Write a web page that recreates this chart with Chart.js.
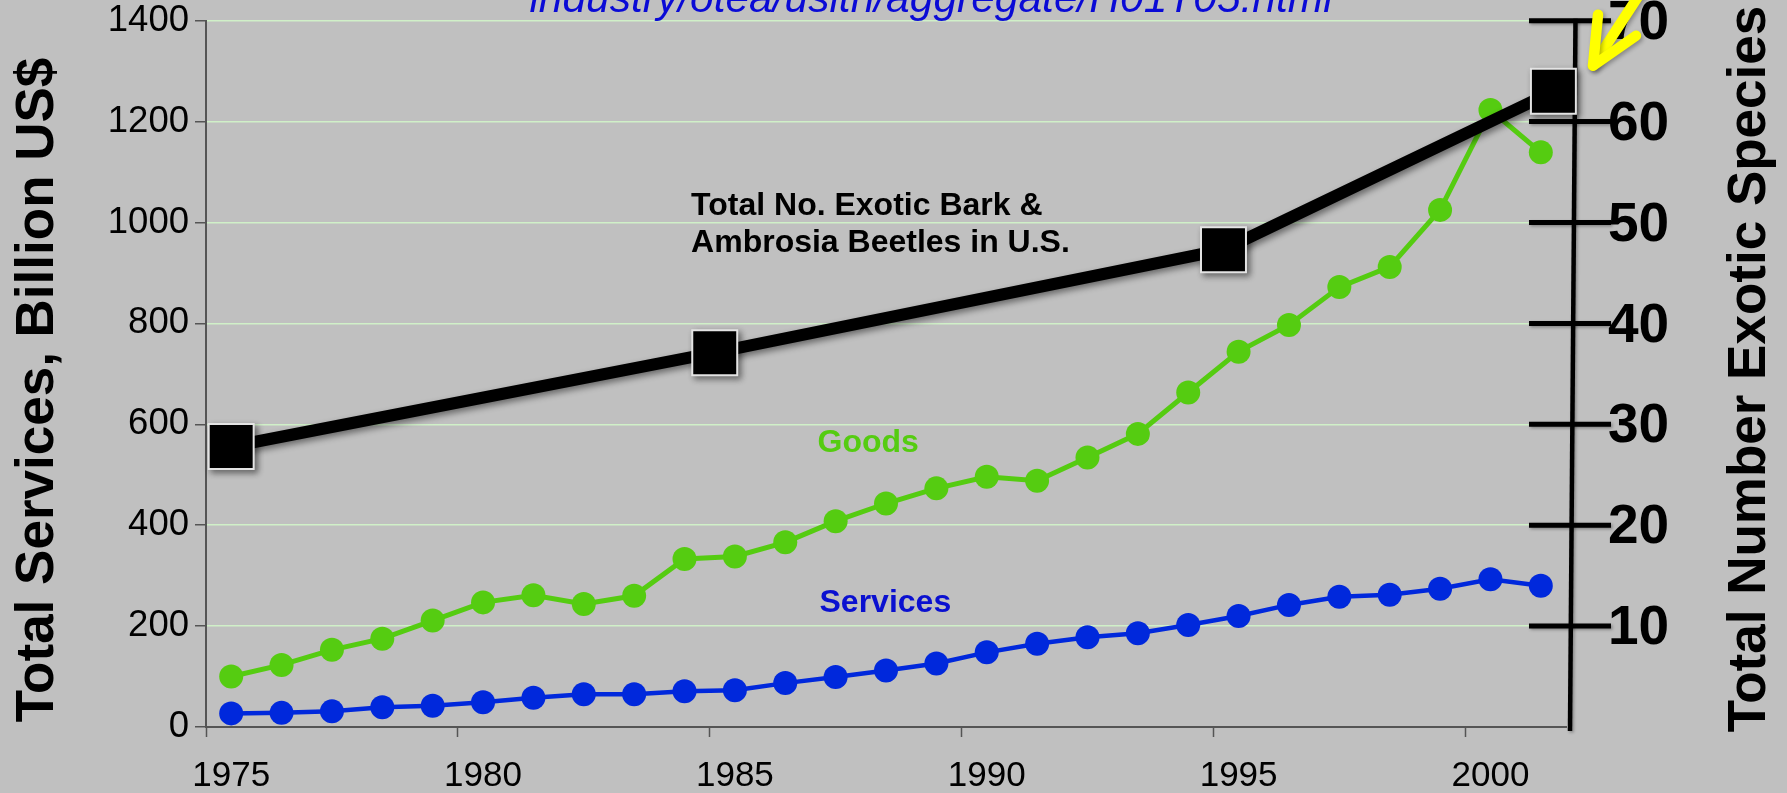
<!DOCTYPE html>
<html>
<head>
<meta charset="utf-8">
<script src="https://cdn.jsdelivr.net/npm/chart.js@4.4.1/dist/chart.umd.min.js"></script>
<style>
html,body{margin:0;padding:0;background:#c0c0c0;overflow:hidden}
#wrap{width:1787px;height:793px;position:relative}
canvas{display:block}
</style>
</head>
<body>
<div id="wrap"><canvas id="c" width="1787" height="793"></canvas></div>
<script>
// ---------- data ----------
const years = ['1975','1976','1977','1978','1979','1980','1981','1982','1983','1984','1985','1986','1987','1988','1989','1990','1991','1992','1993','1994','1995','1996','1997','1998','1999','2000','2001'];
const goods = [100,123,153,175,211,247,261,244,260,333,338,366,408,443,473,496,488,534,581,663,744,797,872,912,1025,1223,1139];
const services = [27,28,31,39,42,49,58,65,65,71,73,87,99,112,126,148,165,178,186,202,220,242,258,262,274,293,280];
const beetleYears = [1975,1984.6,1994.7,2001.25];
const beetleCounts = [27.8,37.1,47.3,63.0];
const xTickLabels = ['1975','1980','1985','1990','1995','2000'];
const leftTickValues = [0,200,400,600,800,1000,1200,1400];
const rightTickValues = [0,10,20,30,40,50,60,70];
const leftTitle = 'Total Services, Billion US$';
const rightTitle = 'Total Number Exotic Species';
const urlText = 'industry/otea/usitn/aggregate/H01T05.html';
const beetleLabel = ['Total No. Exotic Bark &','Ambrosia Beetles in U.S.'];

const FONT = '"Liberation Sans", Arial, Helvetica, sans-serif';
Chart.defaults.font.family = FONT;

const GREEN = '#55cc11';
const BLUE = '#0028dc';

const bgPlugin = {
  id: 'bg',
  beforeDraw(chart) {
    const c = chart.ctx;
    c.save();
    c.fillStyle = '#c0c0c0';
    c.fillRect(0, 0, chart.width, chart.height);
    c.restore();
  }
};

const shadowPlugin = {
  id: 'shadow',
  beforeDatasetDraw(chart, args) {
    if (args.index === 0) {
      const c = chart.ctx;
      c.save();
      c.shadowColor = 'rgba(0,0,0,0.45)';
      c.shadowBlur = 6;
      c.shadowOffsetX = 3;
      c.shadowOffsetY = 3;
    }
  },
  afterDatasetDraw(chart, args) {
    if (args.index === 0) chart.ctx.restore();
  }
};

const rightAxisPlugin = {
  id: 'rightAxis',
  beforeDatasetsDraw(chart) {
    const c = chart.ctx, ca = chart.chartArea, y2 = chart.scales.y2;
    c.save();
    c.shadowColor = 'rgba(0,0,0,0.3)';
    c.shadowBlur = 3;
    c.shadowOffsetX = 1.5;
    c.shadowOffsetY = 1.5;
    c.strokeStyle = '#000';
    c.lineWidth = 4.5;
    c.beginPath();
    c.moveTo(ca.right + 9.5, y2.getPixelForValue(70) - 2);
    c.lineTo(ca.right + 4, y2.getPixelForValue(0) + 4);
    c.stroke();
    c.lineWidth = 5;
    rightTickValues.forEach(v => {
      if (v === 0) return;
      const y = y2.getPixelForValue(v);
      c.beginPath();
      c.moveTo(ca.right - 37, y);
      c.lineTo(ca.right + 45, y);
      c.stroke();
    });
    c.restore();
  }
};

const textPlugin = {
  id: 'texts',
  afterDraw(chart) {
    const c = chart.ctx, ca = chart.chartArea;
    const x2 = chart.scales.x2, y = chart.scales.y;
    c.save();
    // axis titles
    c.fillStyle = '#000';
    c.font = 'bold 53px ' + FONT;
    c.textAlign = 'center';
    c.textBaseline = 'alphabetic';
    c.save();
    c.translate(53, 390);
    c.rotate(-Math.PI / 2);
    c.fillText(leftTitle, 0, 0);
    c.restore();
    c.save();
    c.translate(1765, 369);
    c.rotate(-Math.PI / 2);
    c.fillText(rightTitle, 0, 0);
    c.restore();

    c.textAlign = 'left';
    // beetle annotation
    c.font = 'bold 32px ' + FONT;
    c.fillStyle = '#000';
    c.fillText(beetleLabel[0], x2.getPixelForValue(1984.13), y.getPixelForValue(1015));
    c.fillText(beetleLabel[1], x2.getPixelForValue(1984.13), y.getPixelForValue(942));
    // Goods / Services
    c.fillStyle = GREEN;
    c.fillText('Goods', x2.getPixelForValue(1986.64), y.getPixelForValue(545));
    c.fillStyle = '#0a10d0';
    c.fillText('Services', x2.getPixelForValue(1986.68), y.getPixelForValue(227));
    // URL (clipped at top)
    c.font = 'italic 42.5px ' + FONT;
    c.fillStyle = '#0a0ad6';
    c.fillText(urlText, x2.getPixelForValue(1980.92), y.getPixelForValue(1417));

    // yellow arrow
    const tipX = ca.right + 27, tipY = ca.top + 45;
    c.shadowColor = 'rgba(0,0,0,0.3)';
    c.shadowBlur = 4;
    c.shadowOffsetX = 2;
    c.shadowOffsetY = 2;
    c.strokeStyle = '#ffff00';
    c.lineWidth = 10.5;
    c.lineCap = 'round';
    c.lineJoin = 'round';
    c.beginPath();
    c.moveTo(tipX + 56, tipY - 86);
    c.lineTo(tipX, tipY);
    c.stroke();
    c.beginPath();
    c.moveTo(tipX + 5, tipY - 51);
    c.lineTo(tipX, tipY);
    c.lineTo(tipX + 43, tipY - 30);
    c.stroke();
    c.restore();
  }
};

function noPad(s) {
  s.paddingTop = 0; s.paddingBottom = 0; s.paddingLeft = 0; s.paddingRight = 0;
}

new Chart(document.getElementById('c'), {
  type: 'line',
  data: {
    labels: years,
    datasets: [
      {
        label: 'Beetles',
        data: beetleYears.map((x, i) => ({ x: x, y: beetleCounts[i] })),
        xAxisID: 'x2', yAxisID: 'y2',
        borderColor: '#000', borderWidth: 12,
        pointStyle: 'rect', pointRadius: 31.8,
        pointBackgroundColor: '#000', pointBorderColor: '#e4e4e4', pointBorderWidth: 2,
        tension: 0, clip: false, order: 0
      },
      {
        label: 'Goods', data: goods, xAxisID: 'x', yAxisID: 'y',
        borderColor: GREEN, borderWidth: 5,
        pointRadius: 12, pointBackgroundColor: GREEN, pointBorderWidth: 0,
        tension: 0, order: 1
      },
      {
        label: 'Services', data: services, xAxisID: 'x', yAxisID: 'y',
        borderColor: BLUE, borderWidth: 4.5,
        pointRadius: 12, pointBackgroundColor: BLUE, pointBorderWidth: 0,
        tension: 0, order: 2
      }
    ]
  },
  options: {
    responsive: false,
    animation: false,
    devicePixelRatio: 1,
    events: [],
    layout: { autoPadding: false, padding: { top: 20.7, left: 0, right: 0, bottom: 0 } },
    plugins: { legend: { display: false }, tooltip: { enabled: false } },
    scales: {
      x: {
        type: 'category', position: 'bottom', offset: true,
        grid: {
          offset: true, drawOnChartArea: false, drawTicks: true, tickLength: 10, tickWidth: 1.5,
          tickColor: ctx => (ctx.index !== undefined && ctx.index % 5 === 0) ? '#555' : 'rgba(0,0,0,0)'
        },
        border: { color: '#555', width: 2 },
        ticks: {
          autoSkip: false, maxRotation: 0, minRotation: 0, padding: 18, color: '#000',
          font: { size: 35 },
          callback: (v, i) => xTickLabels.includes(years[i]) ? years[i] : ''
        },
        afterFit: s => { s.height = 66; noPad(s); }
      },
      x2: { type: 'linear', display: false, min: 1974.5, max: 2001.5 },
      y: {
        position: 'left', min: 0, max: 1400,
        afterBuildTicks: s => { s.ticks = leftTickValues.map(v => ({ value: v })); },
        ticks: { color: '#000', padding: 6, font: { size: 36.5, lineHeight: 1 }, callback: v => String(v) },
        grid: { color: 'rgb(208,240,200)', lineWidth: 1.5, tickLength: 11, tickColor: '#555', tickWidth: 1.5 },
        border: { color: '#555', width: 2 },
        afterFit: s => { s.width = 206; noPad(s); }
      },
      y2: {
        position: 'right', min: 0, max: 70,
        afterBuildTicks: s => { s.ticks = rightTickValues.map(v => ({ value: v })); },
        grid: { display: false, drawTicks: false, drawOnChartArea: false },
        border: { display: false },
        ticks: {
          color: '#000', padding: 42, labelOffset: 3, font: { size: 55, weight: 'bold', lineHeight: 0.8 },
          callback: v => v === 0 ? '' : String(v)
        },
        afterFit: s => { s.width = 221; noPad(s); }
      }
    }
  },
  plugins: [bgPlugin, shadowPlugin, rightAxisPlugin, textPlugin]
});
</script>
</body>
</html>
